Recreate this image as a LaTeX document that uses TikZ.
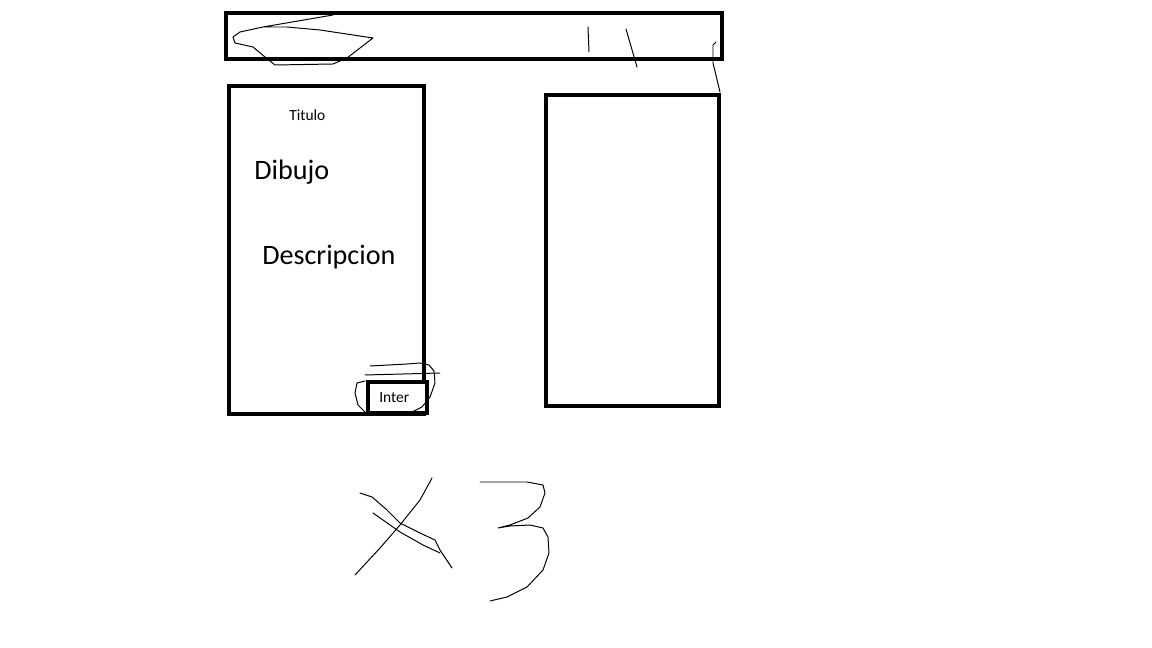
\documentclass[tikz,border=0pt]{standalone}
\usepackage{fontspec}
\setmainfont{Carlito}
\usetikzlibrary{positioning}
\tikzset{
  sketchbox/.style={draw, line width=2.8pt, minimum width=#1, inner sep=0pt},
  sketchtext/.style={anchor=base west, inner sep=0pt, font=\fontsize{20}{24}\selectfont},
  sketchsmall/.style={anchor=base west, inner sep=0pt, font=\fontsize{11}{13}\selectfont},
  scribble/.style={line width=0.7pt, line cap=round, line join=round},
}
\begin{document}
\begin{tikzpicture}[x=0.025cm, y=-0.025cm]
  \useasboundingbox (0,0) rectangle (1152,648);
  % frames
  \node[sketchbox=12.4cm, minimum height=1.15cm] (topbar) at (474,36) {};
  \node[sketchbox=4.875cm, minimum height=8.2cm] (card) at (326.5,250) {};
  \node[sketchbox=4.325cm, minimum height=7.775cm] (panel) at (632.5,250.5) {};
  \node[sketchbox=1.475cm, minimum height=0.775cm, fill=white] (interbox) at (397.5,397.5) {};
  % texts of the card
  \node[sketchsmall] (titulo) at (289,121) {Titulo};
  \node[sketchtext] (dibujo) at (254,180) {Dibujo};
  \node[sketchtext] (descripcion) at (262,265) {Descripcion};
  \node[sketchsmall] (inter) at (379,403) {Inter};
  % freehand marks on the top bar
  \draw[scribble] (333,15) -- (263,27) -- (240,32) -- (233,37) -- (235,43) -- (253,47)
    -- (265,57) -- (275,65) -- (333,64) -- (347,58) -- (373,38) -- (320,30) -- (287,27) -- (263,27);
  \draw[scribble] (588,27) -- (589,52);
  \draw[scribble] (626,29) -- (637,67);
  \draw[scribble] (716,42) -- (713,45) -- (713,63) -- (720,92);
  % freehand marks round the button
  \draw[scribble] (370,366) -- (407,364) -- (420,363) -- (429,365) -- (434,371) -- (435,383)
    -- (430,397) -- (422,407) -- (412,412);
  \draw[scribble] (365,375) -- (440,373);
  \draw[scribble] (365,381) -- (357,383) -- (355,393) -- (358,405) -- (365,412);
  % times three
  \draw[scribble] (432,478) -- (420,500) -- (400,525) -- (380,548) -- (355,575);
  \draw[scribble] (360,493) -- (372,497) -- (387,510) -- (400,523) -- (420,533) -- (435,540)
    -- (440,550) -- (452,568);
  \draw[scribble] (373,513) -- (400,532) -- (423,545) -- (440,553);
  \draw[scribble] (480,482) -- (527,482) -- (543,485) -- (545,493) -- (540,507) -- (528,518)
    -- (510,525) -- (498,528) -- (510,526) -- (530,525) -- (543,528) -- (548,537) -- (549,553)
    -- (543,570) -- (527,587) -- (507,597) -- (490,601);
\end{tikzpicture}
\end{document}
